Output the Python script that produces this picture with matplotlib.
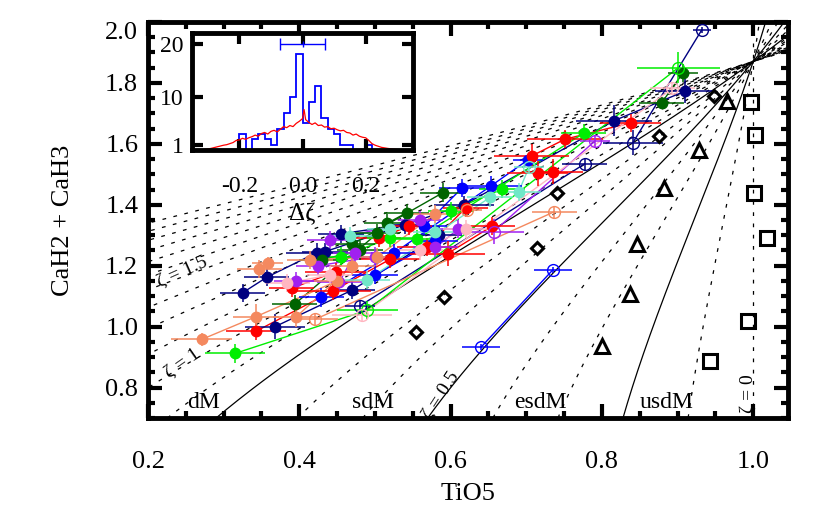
import numpy as np
import matplotlib
matplotlib.use('Agg')
import matplotlib.pyplot as plt

plt.rcParams['font.family'] = ['Liberation Serif', 'DejaVu Serif']

# ---------------- data ----------------
# zeta lines (Lepine 2007 calibration)
zeta_solid = [0.2, 0.5, 0.825]
zeta_dashed = [0.0, 0.1, 0.3, 0.4, 0.6, 0.7, 0.9, 1.0, 1.1, 1.2, 1.3, 1.4, 1.5,
               1.6, 1.7, 1.8, 1.9, 2.0]
poly_coef = [-0.050, -0.118, 0.670, -0.164]   # c0 + c1 x + c2 x^2 + c3 x^3

# reference standards
sq_x = [0.997, 1.003, 1.001, 1.018, 0.993, 0.943]
sq_y = [1.738, 1.629, 1.438, 1.290, 1.019, 0.888]
tri_x = [0.966, 0.929, 0.882, 0.846, 0.837, 0.800]
tri_y = [1.742, 1.580, 1.454, 1.271, 1.106, 0.936]
dia_x = [0.948, 0.876, 0.740, 0.714, 0.591, 0.554]
dia_y = [1.757, 1.626, 1.440, 1.259, 1.098, 0.983]

# binary systems, per colour
navy_x = [0.325, 0.357, 0.423, 0.368, 0.470, 0.585, 0.434, 0.618, 0.816, 0.910, 0.480, 0.777, 0.841, 0.932, 0.455, 0.540]
navy_y = [1.111, 1.162, 1.243, 1.000, 1.120, 1.300, 1.246, 1.400, 1.676, 1.773, 1.068, 1.534, 1.604, 1.974, 1.305, 1.335]
navy_xe = [0.03, 0.03, 0.04, 0.04, 0.03, 0.03, 0.03, 0.04, 0.05, 0.04, 0.02, 0.03, 0.04, 0.012, 0.03, 0.03]
navy_ye = [0.03, 0.03, 0.03, 0.04, 0.03, 0.03, 0.03, 0.03, 0.05, 0.04, 0.02, 0.02, 0.04, 0.01, 0.03, 0.03]
navy_grp = [1, 1, 1, 2, 2, 2, 3, 3, 3, 3, 4, 4, 5, 5, 6, 6]
navy_open = [0, 0, 0, 0, 0, 0, 0, 0, 0, 0, 1, 1, 1, 1, 0, 0]

blue_x = [0.429, 0.525, 0.654, 0.702, 0.565, 0.615, 0.640, 0.735, 0.500, 0.580]
blue_y = [1.096, 1.241, 1.463, 1.547, 1.330, 1.455, 0.932, 1.186, 1.170, 1.280]
blue_xe = [0.03, 0.03, 0.04, 0.02, 0.03, 0.03, 0.025, 0.025, 0.03, 0.03]
blue_ye = [0.03, 0.03, 0.03, 0.02, 0.03, 0.03, 0.01, 0.01, 0.03, 0.03]
blue_grp = [1, 1, 1, 1, 2, 2, 3, 3, 4, 4]
blue_open = [0, 0, 0, 0, 0, 0, 1, 1, 0, 0]

red_x = [0.343, 0.445, 0.520, 0.390, 0.448, 0.707, 0.751, 0.838, 0.715, 0.735, 0.569, 0.620, 0.505, 0.545, 0.596, 0.655]
red_y = [0.985, 1.118, 1.221, 1.126, 1.180, 1.560, 1.615, 1.669, 1.503, 1.509, 1.262, 1.390, 1.290, 1.330, 1.240, 1.330]
red_xe = [0.04, 0.05, 0.04, 0.03, 0.04, 0.05, 0.05, 0.04, 0.04, 0.04, 0.04, 0.03, 0.03, 0.03, 0.05, 0.03]
red_ye = [0.03, 0.03, 0.03, 0.03, 0.03, 0.04, 0.03, 0.03, 0.04, 0.04, 0.03, 0.03, 0.03, 0.03, 0.04, 0.03]
red_grp = [1, 1, 1, 2, 2, 3, 3, 3, 4, 4, 5, 5, 6, 6, 7, 7]
red_open = [0] * 16

dg_x = [0.394, 0.503, 0.516, 0.542, 0.879, 0.907, 0.470, 0.590, 0.430, 0.480]
dg_y = [1.074, 1.306, 1.339, 1.374, 1.735, 1.832, 1.270, 1.440, 1.220, 1.250]
dg_xe = [0.03, 0.03, 0.03, 0.03, 0.03, 0.02, 0.03, 0.03, 0.03, 0.03]
dg_ye = [0.03, 0.03, 0.03, 0.03, 0.02, 0.03, 0.03, 0.03, 0.03, 0.03]
dg_grp = [1, 1, 2, 2, 3, 3, 4, 4, 5, 5]
dg_open = [0] * 10

lime_x = [0.315, 0.490, 0.901, 0.556, 0.776, 0.600, 0.668, 0.455, 0.520]
lime_y = [0.912, 1.054, 1.850, 1.287, 1.635, 1.380, 1.451, 1.230, 1.290]
lime_xe = [0.04, 0.04, 0.055, 0.03, 0.03, 0.03, 0.03, 0.03, 0.03]
lime_ye = [0.03, 0.03, 0.05, 0.03, 0.03, 0.03, 0.03, 0.03, 0.03]
lime_grp = [1, 1, 1, 2, 2, 3, 3, 4, 4]
lime_open = [0, 1, 1, 0, 0, 0, 0, 0, 0]

pur_x = [0.396, 0.453, 0.474, 0.440, 0.560, 0.657, 0.791, 0.580, 0.610, 0.425, 0.500]
pur_y = [1.150, 1.147, 1.241, 1.284, 1.350, 1.312, 1.610, 1.260, 1.320, 1.200, 1.230]
pur_xe = [0.03, 0.03, 0.03, 0.03, 0.03, 0.04, 0.02, 0.03, 0.03, 0.03, 0.03]
pur_ye = [0.03, 0.03, 0.03, 0.03, 0.03, 0.04, 0.02, 0.03, 0.03, 0.03, 0.03]
pur_grp = [1, 1, 1, 2, 2, 3, 3, 4, 4, 5, 5]
pur_open = [0, 0, 0, 0, 0, 1, 1, 0, 0, 0, 0]

sal_x = [0.271, 0.343, 0.450, 0.347, 0.358, 0.414, 0.503, 0.580, 0.421, 0.737, 0.395, 0.470, 0.622]
sal_y = [0.958, 1.033, 1.150, 1.188, 1.210, 1.219, 1.229, 1.370, 1.024, 1.377, 1.030, 1.200, 1.383]
sal_xe = [0.04, 0.03, 0.03, 0.03, 0.02, 0.03, 0.03, 0.03, 0.03, 0.03, 0.03, 0.03, 0.02]
sal_ye = [0.02, 0.04, 0.03, 0.03, 0.02, 0.03, 0.03, 0.03, 0.02, 0.02, 0.03, 0.03, 0.02]
sal_grp = [1, 1, 1, 2, 2, 3, 3, 3, 4, 4, 5, 5, 6]
sal_open = [0, 0, 0, 0, 0, 0, 0, 0, 1, 1, 0, 0, 1]

pink_x = [0.384, 0.440, 0.483, 0.893, 0.560, 0.620]
pink_y = [1.142, 1.170, 1.038, 1.782, 1.250, 1.320]
pink_xe = [0.03, 0.03, 0.04, 0.03, 0.03, 0.03]
pink_ye = [0.03, 0.03, 0.02, 0.02, 0.03, 0.03]
pink_grp = [1, 1, 2, 2, 3, 3]
pink_open = [0, 0, 1, 1, 0, 0]

aq_x = [0.490, 0.652, 0.467, 0.520, 0.690, 0.704, 0.580]
aq_y = [1.153, 1.424, 1.297, 1.320, 1.443, 1.525, 1.310]
aq_xe = [0.03, 0.03, 0.03, 0.03, 0.03, 0.02, 0.03]
aq_ye = [0.03, 0.03, 0.03, 0.03, 0.03, 0.02, 0.03]
aq_grp = [1, 1, 2, 2, 3, 3, 4]
aq_open = [0, 0, 0, 0, 0, 1, 0]

# inset histogram (blue) - bins of width 0.02
hist_lo = [-0.36, -0.34, -0.32, -0.30, -0.28, -0.26, -0.24, -0.22, -0.20, -0.18, -0.16, -0.14,
           -0.12, -0.10, -0.08, -0.06, -0.04, -0.02, 0.00, 0.02, 0.04, 0.06, 0.08, 0.10,
           0.12, 0.14, 0.16, 0.18, 0.20, 0.22, 0.24, 0.26, 0.28, 0.30, 0.32, 0.34]
hist_n = [0, 0, 0, 0, 0, 0, 0, 0, 3, 0, 2, 3,
          2, 1, 4, 7, 10, 18, 5, 9, 12, 6, 4, 3,
          1, 1, 0, 0, 1, 0, 0, 0, 0, 0, 0, 0]
# inset simulated distribution (red)
sim_x = [-0.34, -0.32, -0.30, -0.29, -0.27, -0.25, -0.24, -0.22, -0.21, -0.20, -0.19, -0.18, -0.17,
         -0.16, -0.15, -0.14, -0.13, -0.12, -0.11, -0.10, -0.09, -0.08, -0.07, -0.06, -0.05,
         -0.04, -0.03, -0.02, -0.01, 0.00, 0.005, 0.01, 0.02, 0.03, 0.04, 0.05, 0.06, 0.07,
         0.08, 0.09, 0.10, 0.11, 0.12, 0.13, 0.14, 0.15, 0.16, 0.17, 0.18, 0.19, 0.20, 0.21,
         0.22, 0.23, 0.25, 0.27, 0.29, 0.31, 0.33]
sim_y = [0.0, 0.05, 0.2, 0.3, 0.6, 0.9, 1.0, 1.4, 1.8, 1.9, 2.2, 2.0, 2.3,
         2.5, 2.8, 2.6, 3.1, 3.3, 3.0, 3.5, 3.7, 3.4, 3.9, 4.4, 4.2,
         4.6, 4.4, 5.0, 5.4, 5.9, 7.6, 5.7, 5.2, 4.8, 5.1, 4.6, 4.7, 4.3,
         4.4, 4.0, 4.1, 3.8, 3.6, 3.7, 3.3, 3.2, 2.8, 3.0, 2.6, 2.4, 2.3, 1.8,
         1.2, 0.9, 0.5, 0.3, 0.15, 0.05, 0.0]

# ---------------- figure ----------------
fig = plt.figure(figsize=(8.3, 5.11), dpi=100)
ax = fig.add_axes([148 / 830, 1 - 418 / 511, 640 / 830, 396 / 511])
ax.set_xlim(0.2, 1.046)
ax.set_ylim(0.7, 2.0)

cah = np.linspace(0.7, 2.0, 400)
fsol = poly_coef[0] + poly_coef[1] * cah + poly_coef[2] * cah ** 2 + poly_coef[3] * cah ** 3
for z in zeta_dashed:
    ax.plot(1 - z * (1 - fsol), cah, color='black', lw=0.9, ls=(0, (3, 6)), zorder=1)
for z in zeta_solid:
    ax.plot(1 - z * (1 - fsol), cah, color='black', lw=0.9, zorder=1)

ax.plot(sq_x, sq_y, ls='none', marker='s', ms=9.5, mfc='none', mec='black', mew=2.2, zorder=5)
ax.plot(tri_x, tri_y, ls='none', marker='^', ms=9.5, mfc='none', mec='black', mew=2.2, zorder=5)
ax.plot(dia_x, dia_y, ls='none', marker='D', ms=6.5, mfc='none', mec='black', mew=2.2, zorder=5)

series = [
    (navy_x, navy_y, navy_xe, navy_ye, navy_grp, navy_open, '#000080'),
    (blue_x, blue_y, blue_xe, blue_ye, blue_grp, blue_open, '#0000FF'),
    (red_x, red_y, red_xe, red_ye, red_grp, red_open, '#FF0000'),
    (dg_x, dg_y, dg_xe, dg_ye, dg_grp, dg_open, '#006400'),
    (lime_x, lime_y, lime_xe, lime_ye, lime_grp, lime_open, '#00EE00'),
    (pur_x, pur_y, pur_xe, pur_ye, pur_grp, pur_open, '#A020F0'),
    (sal_x, sal_y, sal_xe, sal_ye, sal_grp, sal_open, '#F4895F'),
    (pink_x, pink_y, pink_xe, pink_ye, pink_grp, pink_open, '#FFB6C1'),
    (aq_x, aq_y, aq_xe, aq_ye, aq_grp, aq_open, '#70E8C8'),
]
for xs, ys, xe, ye, grp, op, col in series:
    xs = np.array(xs); ys = np.array(ys); xe = np.array(xe); ye = np.array(ye)
    grp = np.array(grp); op = np.array(op)
    for g in np.unique(grp):
        m = grp == g
        ax.plot(xs[m], ys[m], color=col, lw=1.0, zorder=2)
    ax.errorbar(xs, ys, xerr=xe, yerr=ye, fmt='none', ecolor=col, elinewidth=1.1, capsize=0, zorder=3)
    f = op == 0
    ax.plot(xs[f], ys[f], ls='none', marker='o', ms=7.5, mfc=col, mec=col, zorder=4)
    ax.plot(xs[~f], ys[~f], ls='none', marker='o', ms=8.5, mfc='none', mec=col, mew=1.0, zorder=4)

# labels on plot
fs_lab = 17
ax.text(0.273, 0.715, 'dM', fontsize=fs_lab, ha='center', va='bottom')
ax.text(0.498, 0.715, 'sdM', fontsize=fs_lab, ha='center', va='bottom')
ax.text(0.719, 0.715, 'esdM', fontsize=fs_lab, ha='center', va='bottom')
ax.text(0.885, 0.715, 'usdM', fontsize=fs_lab, ha='center', va='bottom')
ax.text(0.245, 1.18, 'ζ = 1.5', fontsize=14, ha='center', va='center', rotation=24)
ax.text(0.245, 0.88, 'ζ = 1', fontsize=14, ha='center', va='center', rotation=35)
ax.text(0.587, 0.775, 'ζ = 0.5', fontsize=14, ha='center', va='center', rotation=57)
ax.text(0.993, 0.78, 'ζ = 0', fontsize=14, ha='center', va='center', rotation=90)

ax.set_xticks([0.2, 0.4, 0.6, 0.8, 1.0])
ax.set_xticklabels(['0.2', '0.4', '0.6', '0.8', '1.0'])
ax.set_xticks(np.arange(0.25, 1.046, 0.05), minor=True)
ax.set_yticks([0.8, 1.0, 1.2, 1.4, 1.6, 1.8, 2.0])
ax.set_yticklabels(['0.8', '1.0', '1.2', '1.4', '1.6', '1.8', '2.0'])
ax.set_yticks(np.arange(0.7, 2.0, 0.05), minor=True)
ax.tick_params(axis='both', which='major', direction='in', length=10, width=3,
               top=True, right=True, labelsize=19)
ax.tick_params(axis='both', which='minor', direction='in', length=5, width=3,
               top=True, right=True)
ax.tick_params(axis='x', which='major', pad=24)
ax.tick_params(axis='y', which='major', pad=7)
ax.get_yticklabels()[-1].set_va('top')
for sp in ax.spines.values():
    sp.set_linewidth(3.5)
ax.set_xlabel('TiO5', fontsize=19)
ax.set_ylabel('CaH2 + CaH3', fontsize=19)
ax.xaxis.set_label_coords(0.5, -0.165)
ax.yaxis.set_label_coords(-0.115, 0.5)

# ---------------- inset ----------------
axi = fig.add_axes([192 / 830, 1 - 150 / 511, 221 / 830, 117 / 511])
axi.set_xlim(-0.35, 0.35)
axi.set_ylim(0, 22)
edges = list(hist_lo) + [hist_lo[-1] + 0.02]
axi.stairs(hist_n, edges, color='#0000FF', lw=1.3, baseline=None)
axi.plot(sim_x, sim_y, color='#FF0000', lw=0.9)
axi.errorbar([0.0], [20], xerr=[0.072], fmt='|', color='#0000FF', ms=4, capsize=4, elinewidth=1.0)
axi.set_xticks([-0.2, 0.0, 0.2])
axi.set_xticklabels(['-0.2', '0.0', '0.2'])
axi.set_yticks([1, 10, 20])
axi.set_yticklabels(['1', '10', '20'])
axi.tick_params(direction='in', length=8, width=3, top=True, right=True, labelsize=17)
axi.tick_params(axis='x', pad=19)
axi.tick_params(axis='y', pad=6)
for sp in axi.spines.values():
    sp.set_linewidth(3.5)
axi.set_xlabel('Δζ', fontsize=18)
axi.xaxis.set_label_coords(0.5, -0.45)

fig.savefig('out.png', dpi=100)
